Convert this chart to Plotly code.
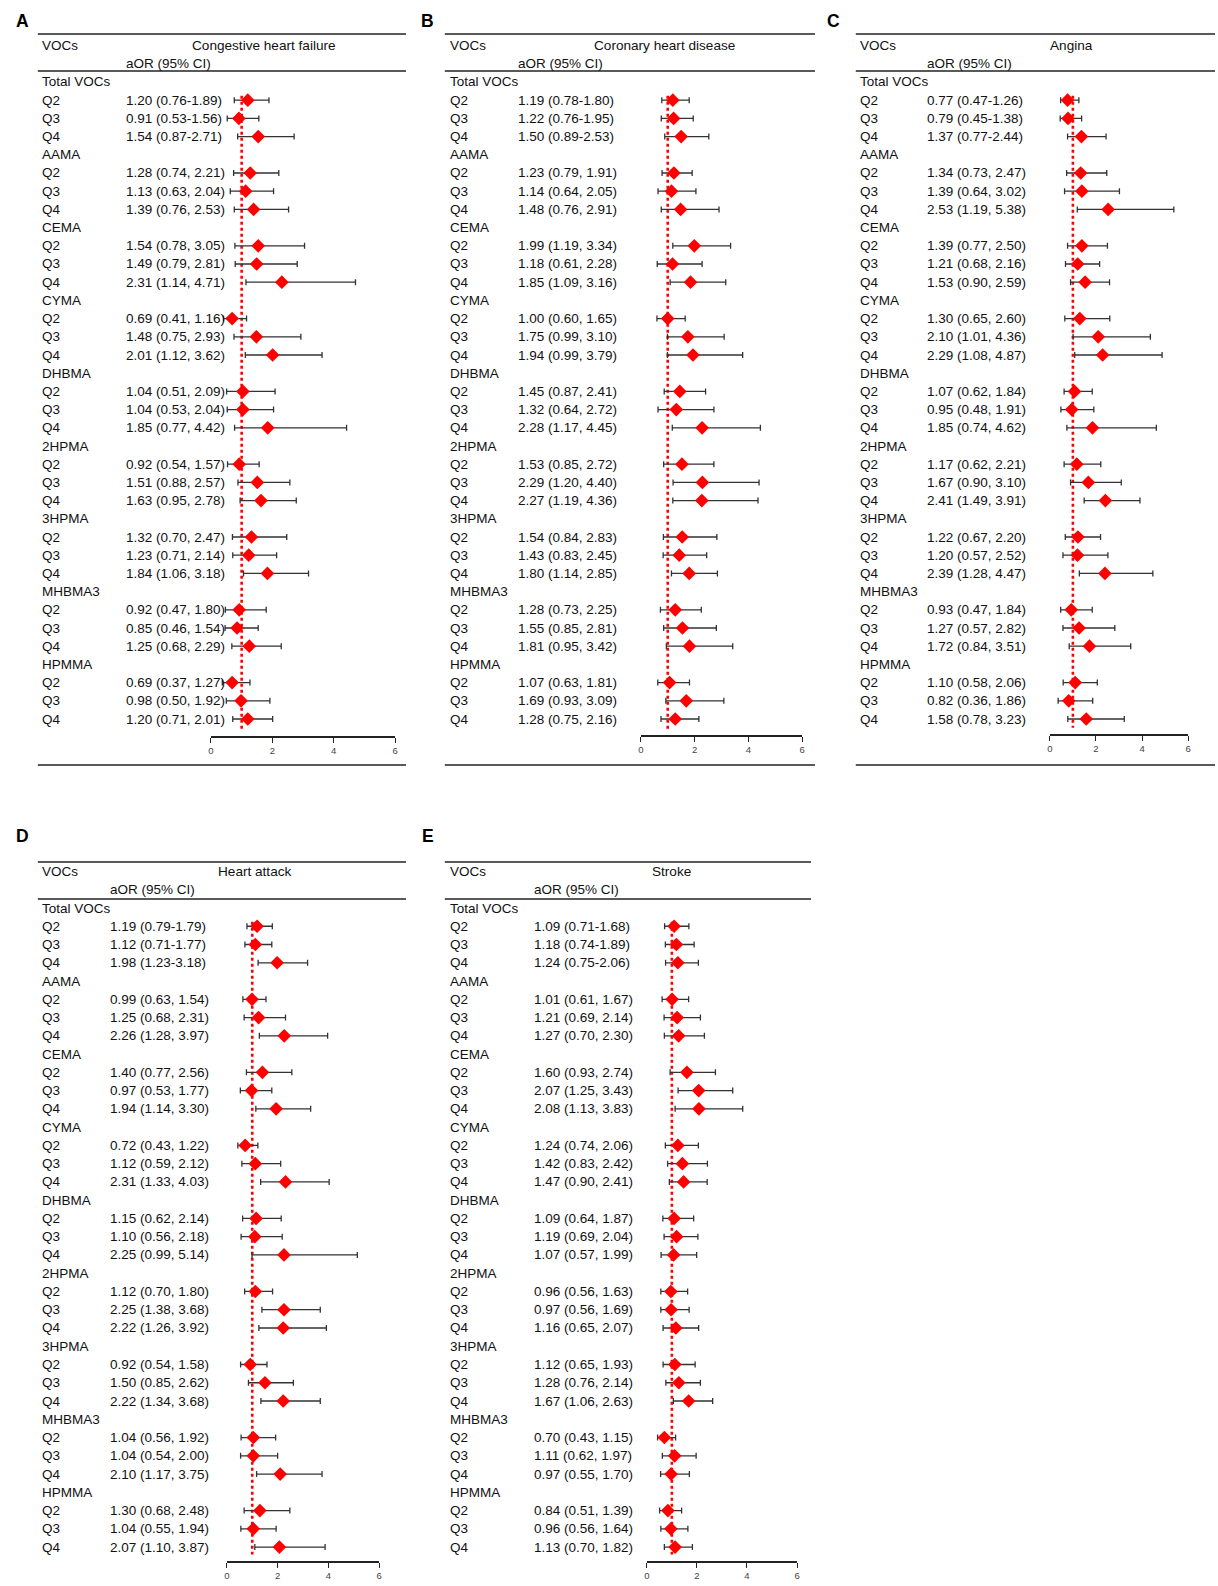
import plotly.graph_objects as go

# ---------------- data ----------------
groups = ["Total VOCs", "AAMA", "CEMA", "CYMA", "DHBMA", "2HPMA", "3HPMA", "MHBMA3", "HPMMA"]
quartiles = ["Q2", "Q3", "Q4"]
titles = ["Congestive heart failure", "Coronary heart disease", "Angina", "Heart attack", "Stroke"]
letters = ["A", "B", "C", "D", "E"]
tick_vals = [0, 2, 4, 6]

chf_or = [1.20, 0.91, 1.54, 1.28, 1.13, 1.39, 1.54, 1.49, 2.31, 0.69, 1.48, 2.01, 1.04, 1.04, 1.85,
          0.92, 1.51, 1.63, 1.32, 1.23, 1.84, 0.92, 0.85, 1.25, 0.69, 0.98, 1.20]
chf_lo = [0.76, 0.53, 0.87, 0.74, 0.63, 0.76, 0.78, 0.79, 1.14, 0.41, 0.75, 1.12, 0.51, 0.53, 0.77,
          0.54, 0.88, 0.95, 0.70, 0.71, 1.06, 0.47, 0.46, 0.68, 0.37, 0.50, 0.71]
chf_hi = [1.89, 1.56, 2.71, 2.21, 2.04, 2.53, 3.05, 2.81, 4.71, 1.16, 2.93, 3.62, 2.09, 2.04, 4.42,
          1.57, 2.57, 2.78, 2.47, 2.14, 3.18, 1.80, 1.54, 2.29, 1.27, 1.92, 2.01]

chd_or = [1.19, 1.22, 1.50, 1.23, 1.14, 1.48, 1.99, 1.18, 1.85, 1.00, 1.75, 1.94, 1.45, 1.32, 2.28,
          1.53, 2.29, 2.27, 1.54, 1.43, 1.80, 1.28, 1.55, 1.81, 1.07, 1.69, 1.28]
chd_lo = [0.78, 0.76, 0.89, 0.79, 0.64, 0.76, 1.19, 0.61, 1.09, 0.60, 0.99, 0.99, 0.87, 0.64, 1.17,
          0.85, 1.20, 1.19, 0.84, 0.83, 1.14, 0.73, 0.85, 0.95, 0.63, 0.93, 0.75]
chd_hi = [1.80, 1.95, 2.53, 1.91, 2.05, 2.91, 3.34, 2.28, 3.16, 1.65, 3.10, 3.79, 2.41, 2.72, 4.45,
          2.72, 4.40, 4.36, 2.83, 2.45, 2.85, 2.25, 2.81, 3.42, 1.81, 3.09, 2.16]

ang_or = [0.77, 0.79, 1.37, 1.34, 1.39, 2.53, 1.39, 1.21, 1.53, 1.30, 2.10, 2.29, 1.07, 0.95, 1.85,
          1.17, 1.67, 2.41, 1.22, 1.20, 2.39, 0.93, 1.27, 1.72, 1.10, 0.82, 1.58]
ang_lo = [0.47, 0.45, 0.77, 0.73, 0.64, 1.19, 0.77, 0.68, 0.90, 0.65, 1.01, 1.08, 0.62, 0.48, 0.74,
          0.62, 0.90, 1.49, 0.67, 0.57, 1.28, 0.47, 0.57, 0.84, 0.58, 0.36, 0.78]
ang_hi = [1.26, 1.38, 2.44, 2.47, 3.02, 5.38, 2.50, 2.16, 2.59, 2.60, 4.36, 4.87, 1.84, 1.91, 4.62,
          2.21, 3.10, 3.91, 2.20, 2.52, 4.47, 1.84, 2.82, 3.51, 2.06, 1.86, 3.23]

ha_or = [1.19, 1.12, 1.98, 0.99, 1.25, 2.26, 1.40, 0.97, 1.94, 0.72, 1.12, 2.31, 1.15, 1.10, 2.25,
         1.12, 2.25, 2.22, 0.92, 1.50, 2.22, 1.04, 1.04, 2.10, 1.30, 1.04, 2.07]
ha_lo = [0.79, 0.71, 1.23, 0.63, 0.68, 1.28, 0.77, 0.53, 1.14, 0.43, 0.59, 1.33, 0.62, 0.56, 0.99,
         0.70, 1.38, 1.26, 0.54, 0.85, 1.34, 0.56, 0.54, 1.17, 0.68, 0.55, 1.10]
ha_hi = [1.79, 1.77, 3.18, 1.54, 2.31, 3.97, 2.56, 1.77, 3.30, 1.22, 2.12, 4.03, 2.14, 2.18, 5.14,
         1.80, 3.68, 3.92, 1.58, 2.62, 3.68, 1.92, 2.00, 3.75, 2.48, 1.94, 3.87]

st_or = [1.09, 1.18, 1.24, 1.01, 1.21, 1.27, 1.60, 2.07, 2.08, 1.24, 1.42, 1.47, 1.09, 1.19, 1.07,
         0.96, 0.97, 1.16, 1.12, 1.28, 1.67, 0.70, 1.11, 0.97, 0.84, 0.96, 1.13]
st_lo = [0.71, 0.74, 0.75, 0.61, 0.69, 0.70, 0.93, 1.25, 1.13, 0.74, 0.83, 0.90, 0.64, 0.69, 0.57,
         0.56, 0.56, 0.65, 0.65, 0.76, 1.06, 0.43, 0.62, 0.55, 0.51, 0.56, 0.70]
st_hi = [1.68, 1.89, 2.06, 1.67, 2.14, 2.30, 2.74, 3.43, 3.83, 2.06, 2.42, 2.41, 1.87, 2.04, 1.99,
         1.63, 1.69, 2.07, 1.93, 2.14, 2.63, 1.15, 1.97, 1.70, 1.39, 1.64, 1.82]

series = [(chf_or, chf_lo, chf_hi), (chd_or, chd_lo, chd_hi), (ang_or, ang_lo, ang_hi),
          (ha_or, ha_lo, ha_hi), (st_or, st_lo, st_hi)]

# ---------------- layout (pixel positions) ----------------
W, H = 1218, 1586
FONT = "Liberation Sans, Arial, sans-serif"

layouts = [
    dict(letter=(19.5, 21), line_x=(35, 405), top=34, mid=71, bottom=765, head_y=45, aor_y=63,
         row0=82, step=18.2, label_x=37, text_x=122, title_x=262, ax0=209, ax6=394, axis_y=736),
    dict(letter=(427, 21), line_x=(444, 816), top=34, mid=71, bottom=765, head_y=45, aor_y=63,
         row0=82, step=18.2, label_x=447, text_x=516, title_x=665, ax0=641, ax6=803, axis_y=735),
    dict(letter=(835, 21), line_x=(857, 1218), top=34, mid=71, bottom=765, head_y=45, aor_y=63,
         row0=82, step=18.2, label_x=859, text_x=927, title_x=1074, ax0=1052, ax6=1191, axis_y=734),
    dict(letter=(19.5, 836), line_x=(35, 405), top=862, mid=899, bottom=None, head_y=872, aor_y=890,
         row0=908, step=18.26, label_x=37, text_x=106, title_x=253, ax0=225, ax6=378, axis_y=1561),
    dict(letter=(427, 836), line_x=(444, 812), top=862, mid=899, bottom=None, head_y=872, aor_y=890,
         row0=908, step=18.26, label_x=447, text_x=532, title_x=672, ax0=647, ax6=798, axis_y=1561),
]


def px(x):
    return x / W


def py(y):
    return 1 - y / H


fig = go.Figure()
shapes = []
annotations = []
layout_axes = {}

for p, (lay, (orv, lov, hiv)) in enumerate(zip(layouts, series)):
    n = p + 1
    xa = "x" if n == 1 else f"x{n}"
    ya = "y" if n == 1 else f"y{n}"
    xkey = "xaxis" if n == 1 else f"xaxis{n}"
    ykey = "yaxis" if n == 1 else f"yaxis{n}"

    step = lay["step"]
    row0 = lay["row0"]
    top_pix = row0 - 0.5 * step
    i_top = -0.5
    i_bottom = (lay["axis_y"] - row0) / step

    layout_axes[xkey] = dict(
        domain=[px(lay["ax0"]), px(lay["ax6"])], range=[0, 6], anchor=ya,
        tickvals=tick_vals, ticks="outside", ticklen=5, tickwidth=1.3, tickcolor="#222",
        showline=True, linecolor="#222", linewidth=1.5, showgrid=False, zeroline=False,
        tickfont=dict(size=9.5, color="#444", family=FONT), fixedrange=True,
    )
    layout_axes[ykey] = dict(
        domain=[py(lay["axis_y"]), py(top_pix)], range=[i_bottom, i_top], anchor=xa,
        visible=False, showgrid=False, zeroline=False, fixedrange=True,
    )

    # rows
    ys, xs, ep, em = [], [], [], []
    k = 0
    for g, gname in enumerate(groups):
        grow = 4 * g
        annotations.append(dict(x=px(lay["label_x"]), y=grow, xref="paper", yref=ya, text=gname,
                                showarrow=False, xanchor="left", yanchor="middle",
                                font=dict(size=13.5, color="#111", family=FONT)))
        for q, qname in enumerate(quartiles):
            r = grow + 1 + q
            o, lo, hi = orv[k], lov[k], hiv[k]
            if g == 0:
                txt = f"{o:.2f} ({lo:.2f}-{hi:.2f})"
            else:
                txt = f"{o:.2f} ({lo:.2f}, {hi:.2f})"
            annotations.append(dict(x=px(lay["label_x"]), y=r, xref="paper", yref=ya, text=qname,
                                    showarrow=False, xanchor="left", yanchor="middle",
                                    font=dict(size=13.5, color="#111", family=FONT)))
            annotations.append(dict(x=px(lay["text_x"]), y=r, xref="paper", yref=ya, text=txt,
                                    showarrow=False, xanchor="left", yanchor="middle",
                                    font=dict(size=13.5, color="#111", family=FONT)))
            ys.append(r)
            xs.append(o)
            ep.append(hi - o)
            em.append(o - lo)
            k += 1

    # reference line at OR = 1
    fig.add_trace(go.Scatter(x=[1, 1], y=[0.75, i_bottom - 0.35], mode="lines", xaxis=xa, yaxis=ya,
                             line=dict(color="#ff0000", width=2.6, dash="dot"),
                             showlegend=False, hoverinfo="skip"))
    fig.add_trace(go.Scatter(
        x=xs, y=ys, mode="markers", xaxis=xa, yaxis=ya, showlegend=False,
        marker=dict(symbol="diamond", size=10.5, color="#ff0000", line=dict(width=0)),
        error_x=dict(type="data", symmetric=False, array=ep, arrayminus=em,
                     color="#333", thickness=1.3, width=3),
    ))

    # header lines
    x0, x1 = lay["line_x"]
    for yl in [lay["top"], lay["mid"], lay["bottom"]]:
        if yl is None:
            continue
        shapes.append(dict(type="line", xref="paper", yref="paper", x0=px(x0), x1=px(x1),
                           y0=py(yl), y1=py(yl), line=dict(color="#222", width=1.6)))

    # header texts
    annotations.append(dict(x=px(lay["label_x"]), y=py(lay["head_y"]), xref="paper", yref="paper",
                            text="VOCs", showarrow=False, xanchor="left", yanchor="middle",
                            font=dict(size=13.5, color="#111", family=FONT)))
    annotations.append(dict(x=px(lay["title_x"]), y=py(lay["head_y"]), xref="paper", yref="paper",
                            text=titles[p], showarrow=False, xanchor="center", yanchor="middle",
                            font=dict(size=13.6, color="#111", family=FONT)))
    annotations.append(dict(x=px(lay["text_x"]), y=py(lay["aor_y"]), xref="paper", yref="paper",
                            text="aOR (95% CI)", showarrow=False, xanchor="left", yanchor="middle",
                            font=dict(size=13.5, color="#111", family=FONT)))
    lx, ly = lay["letter"]
    annotations.append(dict(x=px(lx), y=py(ly), xref="paper", yref="paper",
                            text=f"<b>{letters[p]}</b>", showarrow=False, xanchor="center",
                            yanchor="middle", font=dict(size=17.5, color="#000", family=FONT)))

fig.update_layout(
    width=W, height=H, margin=dict(l=0, r=0, t=0, b=0),
    paper_bgcolor="white", plot_bgcolor="white",
    shapes=shapes, annotations=annotations, showlegend=False,
    font=dict(family=FONT),
    **layout_axes,
)

fig.write_html(
    "out.html",
    config={"displayModeBar": False},
    post_script="document.body.style.margin='0';document.body.style.padding='0';"
                "document.body.style.overflow='hidden';",
)
